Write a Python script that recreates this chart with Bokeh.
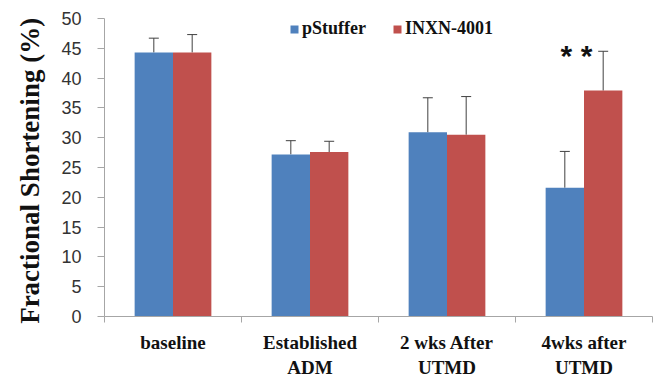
import numpy as np
from bokeh.plotting import figure
from bokeh.models import (ColumnDataSource, FixedTicker, Whisker, TeeHead,
                          Legend, LegendItem, Range1d)
from bokeh.core.properties import value
from bokeh.embed import file_html
from bokeh.resources import INLINE

categories = ["baseline", "Established\nADM", "2 wks After\nUTMD", "4wks after\nUTMD"]
series_names = ["pStuffer", "INXN-4001"]
pstuffer = [44.3, 27.2, 30.9, 21.6]
pstuffer_err = [2.4, 2.3, 5.8, 6.1]
inxn = [44.3, 27.6, 30.5, 37.9]
inxn_err = [3.0, 1.8, 6.4, 6.6]
y_ticks = [0, 5, 10, 15, 20, 25, 30, 35, 40, 45, 50]
star_label = "* *"
star_index = 3

BLUE = "#4F81BD"
RED = "#C0504D"
SERIF = "Liberation Serif"

idx = np.arange(len(categories))
centers = idx + 0.5
bw = 0.28

p = figure(width=654, height=380, output_backend="svg", toolbar_location=None,
           x_range=Range1d(0, len(categories)), y_range=Range1d(0, 50),
           min_border_left=104, min_border_right=2, min_border_top=18,
           min_border_bottom=62)
p.outline_line_color = None
p.xgrid.grid_line_color = None
p.ygrid.grid_line_color = None

src_a = ColumnDataSource(dict(x=centers - bw / 2, top=pstuffer,
                              upper=np.array(pstuffer) + np.array(pstuffer_err)))
src_b = ColumnDataSource(dict(x=centers + bw / 2, top=inxn,
                              upper=np.array(inxn) + np.array(inxn_err)))

ra = p.vbar(x="x", top="top", width=bw, source=src_a, fill_color=BLUE, line_color=None)
rb = p.vbar(x="x", top="top", width=bw, source=src_b, fill_color=RED, line_color=None)

for src in (src_a, src_b):
    w = Whisker(base="x", upper="upper", lower="top", source=src,
                line_color="#404040", line_width=1,
                upper_head=TeeHead(size=10, line_color="#404040", line_width=1),
                lower_head=None)
    p.add_layout(w)

# significance stars
p.text(x=[centers[star_index] + bw / 2 - 0.195], y=[inxn[star_index] + inxn_err[star_index]],
       text=[star_label], text_font=value("Liberation Sans"), text_font_size="30px",
       text_font_style="bold", text_align="center", text_baseline="middle",
       y_offset=4, text_color="#111111")

# x axis
xa = p.xaxis[0]
xa.ticker = FixedTicker(ticks=list(centers), minor_ticks=list(range(len(categories) + 1)))
xa.major_label_overrides = {float(c): lab for c, lab in zip(centers, categories)}
xa.major_tick_line_color = None
xa.major_tick_out = 0
xa.major_tick_in = 0
xa.minor_tick_line_color = "#A6A6A6"
xa.minor_tick_out = 6
xa.minor_tick_in = 0
xa.axis_line_color = "#A6A6A6"
xa.major_label_text_font = SERIF
xa.major_label_text_font_style = "bold"
xa.major_label_text_font_size = "19px"
xa.major_label_text_color = "#111111"
xa.major_label_standoff = 9

# y axis
ya = p.yaxis[0]
ya.ticker = FixedTicker(ticks=y_ticks)
ya.minor_tick_line_color = None
ya.major_tick_line_color = "#A6A6A6"
ya.major_tick_out = 7
ya.major_tick_in = 0
ya.axis_line_color = "#A6A6A6"
ya.major_label_text_font = "Liberation Sans"
ya.major_label_text_font_size = "18px"
ya.major_label_text_color = "#333333"
ya.major_label_standoff = 16
ya.axis_label = "Fractional  Shortening (%)"
ya.axis_label_text_font = SERIF
ya.axis_label_text_font_style = "bold"
ya.axis_label_text_font_size = "27px"
ya.axis_label_text_color = "#111111"
ya.axis_label_standoff = 13

legend = Legend(items=[LegendItem(label=series_names[0], renderers=[ra]),
                       LegendItem(label=series_names[1], renderers=[rb])],
                orientation="horizontal", location=(185, 277),
                glyph_width=10, glyph_height=10, spacing=26, padding=0, margin=0,
                label_standoff=3,
                label_text_font=SERIF, label_text_font_style="bold",
                label_text_font_size="18px", label_text_color="#111111",
                border_line_color=None, background_fill_alpha=0)
p.add_layout(legend)

open("out.html", "w").write(file_html(p, INLINE))
